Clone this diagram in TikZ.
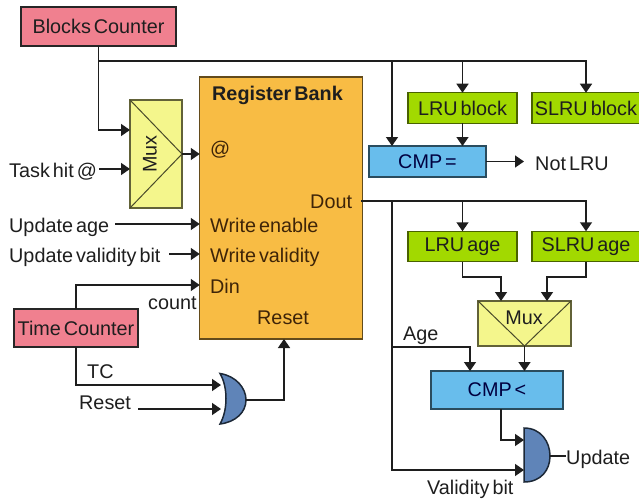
\documentclass[tikz,border=0pt]{standalone}
\usepackage{fontspec}
\setmainfont[WordSpace=0.55]{Liberation Sans}
\usetikzlibrary{arrows.meta,calc}
\definecolor{pinkbox}{HTML}{F0808F}
\definecolor{muxfill}{HTML}{F4F68C}
\definecolor{orangebox}{HTML}{F8BC44}
\definecolor{greenbox}{HTML}{A2D900}
\definecolor{bluebox}{HTML}{68BDEC}
\definecolor{gatefill}{HTML}{5F84B8}
\definecolor{ink}{HTML}{1E1E1E}
\definecolor{inkbrown}{HTML}{3E2408}
\tikzset{
  every node/.style={font=\fontsize{19.8}{21}\selectfont,text=ink},
  box/.style={draw=#1,line width=1.1pt,inner sep=0pt,outer sep=0pt},
  counterbox/.style={box=black!85,fill=pinkbox,line width=1.5pt},
  greenblock/.style={box=black!55!greenbox,fill=greenbox},
  bluecmp/.style={box=black!60!bluebox,fill=bluebox},
  muxbox/.style={box=black!60!muxfill,fill=muxfill},
  regbox/.style={box=black!60!orangebox,fill=orangebox},
  lab/.style={anchor=base west,inner sep=0pt},
  reglab/.style={lab,text=inkbrown},
  wire/.style={line width=1.5pt,draw=ink,line join=miter},
  arr/.style={wire,-{Triangle[width=12pt,length=9pt]}},
  gateline/.style={draw=black!70!gatefill,line width=1.5pt,fill=gatefill},
}
\begin{document}
\begin{tikzpicture}[x=1pt,y=-1pt]
\useasboundingbox (0,0) rectangle (639,500);
% boxes
\node[counterbox,minimum width=155pt,minimum height=39pt] (blocks) at (98.5,26.5) {Blocks Counter};
\node[counterbox,minimum width=124pt,minimum height=38pt] (time) at (76,328) {Time Counter};
\node[regbox,minimum width=162.5pt,minimum height=262pt] (reg) at (281,208) {};
\node[muxbox,minimum width=52pt,minimum height=108pt] (muxa) at (156,154) {};
\node[muxbox,minimum width=93pt,minimum height=45pt] (muxb) at (524.5,323.5) {};
\node[greenblock,minimum width=109pt,minimum height=30.5pt] (lrublock) at (462.5,108) {LRU block};
\node[greenblock,minimum width=108pt,minimum height=30.5pt] (slrublock) at (586,108) {SLRU block};
\node[greenblock,minimum width=109pt,minimum height=30.5pt] (lruage) at (462.5,246.5) {LRU age};
\node[greenblock,minimum width=108pt,minimum height=30.5pt] (slruage) at (586,246.5) {SLRU age};
\node[bluecmp,minimum width=117pt,minimum height=31pt] (cmpeq) at (427.5,161.5) {\color{black!75!blue}CMP =};
\node[bluecmp,minimum width=132pt,minimum height=38pt] (cmplt) at (497,390) {\color{black!75!blue}CMP <};
% mux details
\draw[line width=1pt,draw=black!70!muxfill] (muxa.north west) -- (muxa.east) -- (muxa.south west);
\draw[line width=1pt,draw=black!70!muxfill] (muxb.north west) -- (muxb.south) -- (muxb.north east);
\node[rotate=90] (muxatext) at (150,154) {Mux};
\node (muxbtext) at (524,318) {Mux};
% gates
\coordinate (orin1) at (221,385);
\coordinate (orin2) at (221,409);
\coordinate (orout) at (246,400);
\coordinate (andin1) at (524,440);
\coordinate (andin2) at (524,470);
\coordinate (andout) at (550,456);
\draw[gateline] (220,373.5) .. controls (236,376) and (246,388) .. (orout) .. controls (246,412) and (236,422) .. (220,424) .. controls (228,410) and (228,387) .. (220,373.5) -- cycle;
\draw[gateline] (524,428) .. controls (541,428) and (550,442) .. (andout) .. controls (550,470) and (541,482) .. (524,482) -- cycle;
% labels
\node[lab] (taskhit) at (9,177) {Task hit @};
\node[lab] (updage) at (9,232) {Update age};
\node[lab] (updval) at (9,262) {Update validity bit};
\node[lab] (count) at (148,309) {count};
\node[lab] (tc) at (87,378) {TC};
\node[lab] (resetin) at (79,409) {Reset};
\node[lab] (regtitle) at (212,100) {\bfseries Register Bank};
\node[reglab] (at) at (210,155) {@};
\node[reglab] (wen) at (210,232) {Write enable};
\node[reglab] (wval) at (210,262) {Write validity};
\node[reglab] (din) at (210,293) {Din};
\node[reglab] (rst) at (257,324) {Reset};
\node[reglab] (dout) at (310,208) {Dout};
\node[lab] (notlru) at (535,170) {Not LRU};
\node[lab] (age) at (403,340) {Age};
\node[lab] (update) at (566,464) {Update};
\node[lab] (valbit) at (427,494) {Validity bit};
% named junctions
\coordinate (busstart) at (blocks.south |- 0,61);
\coordinate (busa) at (392,61);
\coordinate (busb) at (lrublock.north |- 0,61);
\coordinate (doutstart) at (361,201);
\coordinate (dbusa) at (392,201);
\coordinate (dbusb) at (lruage.north |- 0,201);
\coordinate (agejoin) at (392,347);
\coordinate (ageend) at (470,347);
\coordinate (timeup) at (time.north |- 0,285);
% top bus
\draw[arr] (blocks.south) |- (muxa.west |- 0,130);
\draw[arr] (busstart) -| (slrublock.north);
\draw[arr] (busa) -- (cmpeq.north -| busa);
\draw[arr] (busb) -- (lrublock.north);
\draw[arr] (lrublock.south) -- (cmpeq.north -| lrublock.south);
\draw[arr] (cmpeq.east) -- (524,161.5);
\draw[arr] (muxa.east) -- (reg.west |- muxa.east);
% left inputs
\draw[arr] (99,169) -- (muxa.west |- 0,169);
\draw[arr] (115,224) -- (reg.west |- 0,224);
\draw[arr] (169,254) -- (reg.west |- 0,254);
\draw[arr] (time.north) -- (timeup) -- (reg.west |- timeup);
% time counter / reset gate
\draw[arr] (time.south) |- (orin1);
\draw[arr] (138,409) -- (orin2);
\draw[arr] (orout) -| (reg.south -| 284,0);
% dout bus
\draw[arr] (doutstart) -| (slruage.north);
\draw[arr] (dbusb) -- (lruage.north);
\draw[arr] (dbusa) |- (andin2);
\draw[arr] (agejoin) -| (cmplt.north -| ageend);
% right lower
\draw[arr] (lruage.south) |- (501,277) -- (muxb.north -| 501,0);
\draw[arr] (slruage.south) |- (547,277) -- (muxb.north -| 547,0);
\draw[arr] (muxb.south) -- (cmplt.north -| muxb.south);
\draw[arr] (cmplt.south -| 501,0) |- (andin1);
\draw[wire] (andout) -- (update.west |- andout);
\end{tikzpicture}
\end{document}
